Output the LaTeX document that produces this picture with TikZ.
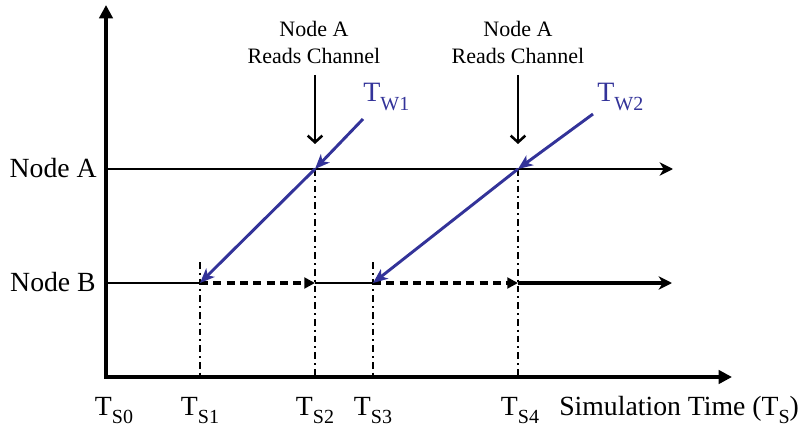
\documentclass[tikz,border=0pt]{standalone}
\usepackage{fontspec}
\setmainfont{Liberation Serif}
\usetikzlibrary{arrows.meta}
\definecolor{twblue}{RGB}{51,51,153}
\newcommand{\Tsb}[1]{T\raisebox{-0.3em}{\fontsize{15pt}{15pt}\selectfont #1}}
\tikzset{
  x=0.75pt, y=-0.75pt,
  axis/.style={line width=3.3pt, -{Triangle[length=10pt,width=10pt]}},
  nodeline/.style={line width=1.9pt},
  nodelinearrow/.style={line width=1.9pt, -{Stealth[length=10pt,width=10pt,inset=3pt]}},
  thickline/.style={line width=2.6pt},
  dasharrow/.style={line width=2.6pt, dash pattern=on 6pt off 4pt, -{Triangle[length=8pt,width=8pt]}},
  dashdot/.style={line width=2pt, dash pattern=on 5pt off 3pt on 1.5pt off 3pt},
  reads/.style={line width=1.9pt, -{Straight Barb[length=5pt,width=11pt,line width=1.9pt]}},
  blue arrow/.style={twblue, line width=2.2pt, -{Stealth[length=11pt,width=9pt,inset=3pt]}},
  mainlbl/.style={font=\fontsize{20.8pt}{24pt}\selectfont, inner sep=0pt},
  toplbl/.style={font=\fontsize{16.5pt}{20pt}\selectfont, inner sep=0pt, anchor=base},
  twlbl/.style={font=\fontsize{21pt}{24pt}\selectfont, inner sep=0pt, text=twblue, anchor=base west},
}
\begin{document}
\begin{tikzpicture}
\useasboundingbox (0,0) rectangle (806,431);
% key points
\coordinate (O) at (106,377);
\coordinate (Ytop) at (106,5);
\coordinate (Xend) at (732,377);
\coordinate (A0) at (106,169);
\coordinate (Aend) at (673,169);
\coordinate (A2) at (315,169);
\coordinate (A4) at (518,169);
\coordinate (B0) at (106,283);
\coordinate (B1) at (200,283);
\coordinate (B2) at (315,283);
\coordinate (B3) at (373,283);
\coordinate (B4) at (518,283);
\coordinate (Bend) at (672,283);
\coordinate (S1top) at (200,262);
\coordinate (S3top) at (373,262);
\coordinate (X1) at (200,377);
\coordinate (X2) at (315,377);
\coordinate (X3) at (373,377);
\coordinate (X4) at (518,377);
\coordinate (R1s) at (315,75);
\coordinate (R1e) at (315,144);
\coordinate (R2s) at (518,75);
\coordinate (R2e) at (518,144);
\coordinate (W1s) at (363,119);
\coordinate (W2s) at (593,114);

% dash-dot verticals
\draw[dashdot] (S1top) -- (X1);
\draw[dashdot] (A2) -- (X2);
\draw[dashdot] (S3top) -- (X3);
\draw[dashdot] (A4) -- (X4);

% node lines
\draw[nodelinearrow] (A0) -- (Aend);
\draw[nodeline] (B0) -- (B1);
\draw[dasharrow] (B1) -- (B2);
\draw[nodeline] (B2) -- (B3);
\draw[dasharrow] (B3) -- (B4);
\draw[thickline, -{Stealth[length=10pt,width=10pt,inset=3pt]}] (B4) -- (Bend);

% axes
\draw[axis] (O) -- (Ytop);
\draw[line width=3.3pt] (O) -- ++(-1.6,0);
\draw[axis] (O) -- (Xend);

% reads arrows
\draw[reads] (R1s) -- (R1e);
\draw[reads] (R2s) -- (R2e);

% blue transmission arrows
\draw[blue arrow] (W1s) -- (A2);
\draw[blue arrow] (A2) -- (B1);
\draw[blue arrow] (W2s) -- (A4);
\draw[blue arrow] (A4) -- (B3);

% labels
\node[mainlbl, anchor=base east] (labA) at (97,177) {Node A};
\node[mainlbl, anchor=base east] (labB) at (96,291) {Node B};
\node[toplbl] (r1a) at (314,37) {Node A};
\node[toplbl] (r1b) at (314,64) {Reads Channel};
\node[toplbl] (r2a) at (518,37) {Node A};
\node[toplbl] (r2b) at (518,64) {Reads Channel};
\node[twlbl] (tw1) at (363,102) {\Tsb{W1}};
\node[twlbl] (tw2) at (597,102) {\Tsb{W2}};
\node[mainlbl, anchor=base] (ts0) at (114,415) {\Tsb{S0}};
\node[mainlbl, anchor=base] (ts1) at (200,415) {\Tsb{S1}};
\node[mainlbl, anchor=base] (ts2) at (315,415) {\Tsb{S2}};
\node[mainlbl, anchor=base] (ts3) at (373,415) {\Tsb{S3}};
\node[mainlbl, anchor=base] (ts4) at (520,415) {\Tsb{S4}};
\node[mainlbl, anchor=base west] (simt) at (559,415) {Simulation Time (\Tsb{S})};
\end{tikzpicture}
\end{document}
